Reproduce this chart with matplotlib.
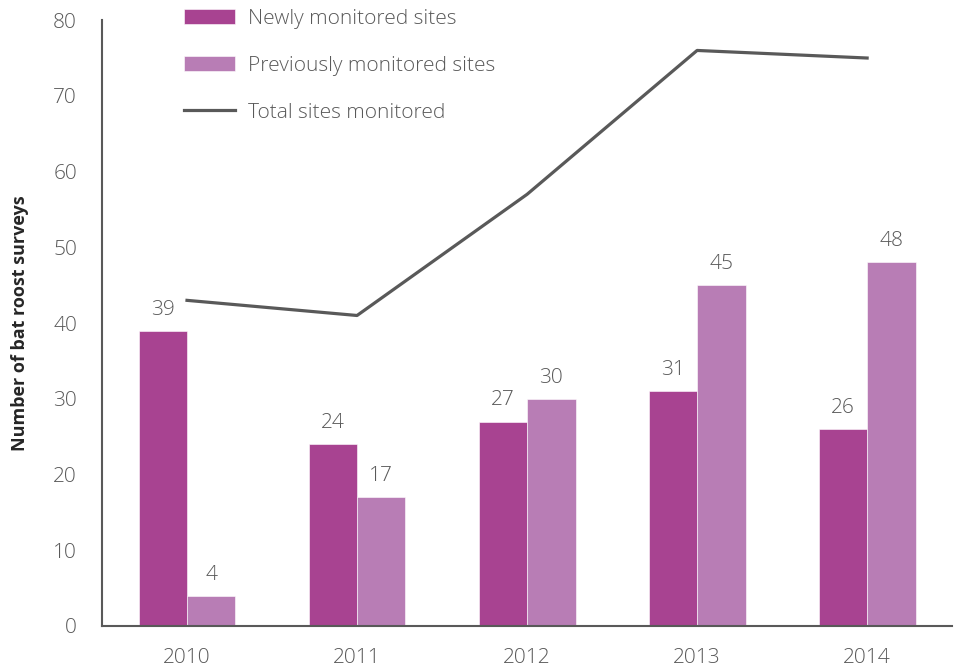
import matplotlib.pyplot as plt
import numpy as np

plt.rcParams['font.family'] = ['Open Sans', 'DejaVu Sans']

# Bat roost survey counts per year
years = ["2010", "2011", "2012", "2013", "2014"]
newly = [39, 24, 27, 31, 26]
previously = [4, 17, 30, 45, 48]
total = [43, 41, 57, 76, 75]

dark = "#a84391"
light = "#b87db5"
grey = "#595959"

x = np.arange(len(years))
w = 0.285

fig = plt.figure(figsize=(9.55, 6.72), dpi=100)
ax = fig.add_axes([0.1068, 0.0685, 0.8902, 0.9015])

b1 = ax.bar(x - w / 2, newly, width=w, color=dark, edgecolor="white", linewidth=0.4,
            label="Newly monitored sites")
b2 = ax.bar(x + w / 2, previously, width=w, color=light, edgecolor="white", linewidth=0.4,
            label="Previously monitored sites")
ln, = ax.plot(x, total, color=grey, linewidth=2.3, label="Total sites monitored")

# value labels above the bars
for bars, vals in ((b1, newly), (b2, previously)):
    for rect, v in zip(bars, vals):
        ax.annotate(str(v), (rect.get_x() + rect.get_width() / 2, v),
                    xytext=(0, 8), textcoords="offset points",
                    ha="center", va="bottom", fontsize=15, color=grey,
                    fontweight="light")

ax.set_xlim(-0.5, 4.5)
ax.set_ylim(0, 80)
ax.set_yticks(range(0, 81, 10))
ax.set_xticks(x)
ax.set_xticklabels(years)
ax.tick_params(axis="both", length=0, labelsize=15, colors=grey)
ax.tick_params(axis="x", pad=16)
ax.tick_params(axis="y", pad=18)
for lab in ax.get_xticklabels() + ax.get_yticklabels():
    lab.set_fontweight("light")

for s in ("top", "right"):
    ax.spines[s].set_visible(False)
for s in ("left", "bottom"):
    ax.spines[s].set_color(grey)
    ax.spines[s].set_linewidth(1.5)

ax.set_ylabel("Number of bat roost surveys", fontsize=13, fontweight="bold",
              color="#262626")
ax.yaxis.set_label_coords(-0.086, 0.5)

leg = ax.legend(handles=[b1, b2, ln], loc="upper left", bbox_to_anchor=(0.074, 1.05),
                frameon=False, fontsize=15, handlelength=2.45, handleheight=0.75,
                labelspacing=1.3, handletextpad=0.65)
for t in leg.get_texts():
    t.set_color(grey)
    t.set_fontweight("light")

fig.savefig("out.png", dpi=100)
